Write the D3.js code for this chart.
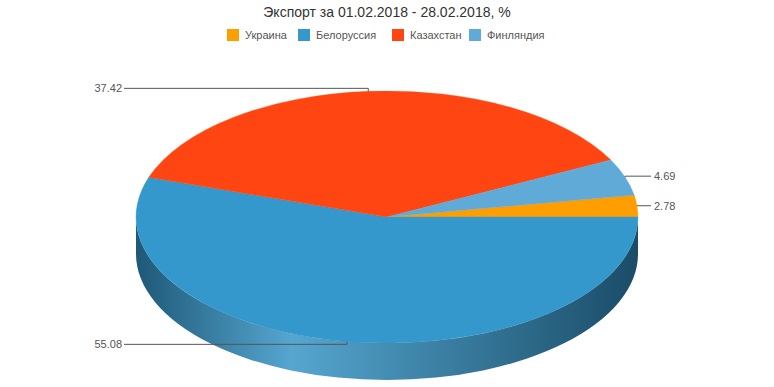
<!DOCTYPE html>
<html><head><meta charset="utf-8">
<script src="https://cdn.jsdelivr.net/npm/d3@7/dist/d3.min.js"></script>
<style>
html,body{margin:0;padding:0;background:#fff;}
text{font-family:"Liberation Sans",Arial,sans-serif;}
</style></head>
<body><svg id="chart" width="774" height="387"></svg>
<script>
const title = "Экспорт за 01.02.2018 - 28.02.2018, %";
const categories = ["Украина", "Белоруссия", "Казахстан", "Финляндия"];
const values = [2.78, 55.08, 37.42, 4.69];
const colors = ["#FF9E01", "#3598CC", "#FF4511", "#60AAD8"];
const valueLabels = ["2.78", "55.08", "37.42", "4.69"];

const svg = d3.select("#chart");
const W = 774, H = 387;
const cx = 387, cy = 217, rx = 251, ry = 126, depth = 37;

// Title
svg.append("text").attr("x", W/2).attr("y", 17).attr("text-anchor","middle")
  .attr("font-size", 14).attr("fill", "#333").text(title);

// Legend
const legendX = [227, 298, 392, 469];
const lg = svg.append("g");
categories.forEach((c,i)=>{
  lg.append("rect").attr("x", legendX[i]).attr("y", 29).attr("width", 12).attr("height", 12).attr("fill", colors[i]);
  lg.append("text").attr("x", legendX[i]+18).attr("y", 39).attr("font-size", 11).attr("fill", "#555").text(c);
});

const data = categories.map((c,i)=>({name:c, value:values[i], color:colors[i], label:valueLabels[i]}));
// counter-clockwise from 3 o'clock, ascending values
const pie = d3.pie().value(d=>d.value).sortValues((a,b)=>a-b)
  .startAngle(Math.PI/2).endAngle(Math.PI/2 - 2*Math.PI);
const arcs = pie(data);
// convert d3 angle (clockwise from 12) to math angle (ccw from 3)
const toMath = a => Math.PI/2 - a;

const defs = svg.append("defs");

// Side walls (front half: math angles in [PI, 2PI])
const sideG = svg.append("g");
arcs.forEach((a,i)=>{
  let t0 = toMath(a.startAngle), t1 = toMath(a.endAngle);
  let lo = Math.min(t0,t1), hi = Math.max(t0,t1);
  // normalize to [0, 2PI]
  while (lo < 0) { lo += 2*Math.PI; hi += 2*Math.PI; }
  const s = Math.max(lo, Math.PI), e = Math.min(hi, 2*Math.PI);
  if (e <= s) return;
  const base = d3.color(a.data.color);
  const gid = "side"+i;
  const g = defs.append("linearGradient").attr("id", gid).attr("gradientUnits","userSpaceOnUse")
    .attr("x1", cx-rx).attr("y1", 0).attr("x2", cx+rx).attr("y2", 0);
  const hsl = d3.hsl(base);
  g.append("stop").attr("offset", 0).attr("stop-color", d3.hsl(hsl.h, hsl.s, hsl.l*0.58).formatHex());
  g.append("stop").attr("offset", 0.31).attr("stop-color", d3.hsl(hsl.h, hsl.s*0.95, hsl.l*1.14).formatHex());
  g.append("stop").attr("offset", 1).attr("stop-color", d3.hsl(hsl.h, hsl.s, hsl.l*0.5).formatHex());
  const p = (t, dz) => [cx + rx*Math.cos(t), cy - ry*Math.sin(t) + dz];
  const [x0,y0] = p(s,0), [x1,y1] = p(e,0), [x2,y2] = p(e,depth), [x3,y3] = p(s,depth);
  const large = (e - s) > Math.PI ? 1 : 0;
  const d = `M${x0},${y0} A${rx},${ry} 0 ${large} 0 ${x1},${y1} L${x2},${y2} A${rx},${ry} 0 ${large} 1 ${x3},${y3} Z`;
  sideG.append("path").attr("d", d).attr("fill", `url(#${gid})`);
});

// Top faces
const arcGen = d3.arc().innerRadius(0).outerRadius(rx);
const topG = svg.append("g").attr("transform", `translate(${cx},${cy}) scale(1,${ry/rx})`);
arcs.forEach(a=>{
  topG.append("path").attr("d", arcGen(a)).attr("fill", a.data.color)
    .attr("stroke", a.data.color).attr("stroke-width", 0.5);
});

// Labels
const labG = svg.append("g");
arcs.forEach(a=>{
  const mid = toMath((a.startAngle + a.endAngle)/2);
  const px = cx + rx*Math.cos(mid), py = cy - ry*Math.sin(mid);
  const ly = cy - (ry+3)*Math.sin(mid);
  const right = Math.cos(mid) > 0;
  const endX = right ? 651 : 124;
  labG.append("path").attr("d", `M${px},${py} L${px},${ly} L${endX},${ly}`)
    .attr("fill","none").attr("stroke","#555").attr("stroke-width",1);
  labG.append("text").attr("x", right ? endX+3 : endX-2).attr("y", ly+4)
    .attr("text-anchor", right ? "start" : "end").attr("font-size", 11).attr("fill", "#555")
    .text(a.data.label);
});
</script>
</body></html>
